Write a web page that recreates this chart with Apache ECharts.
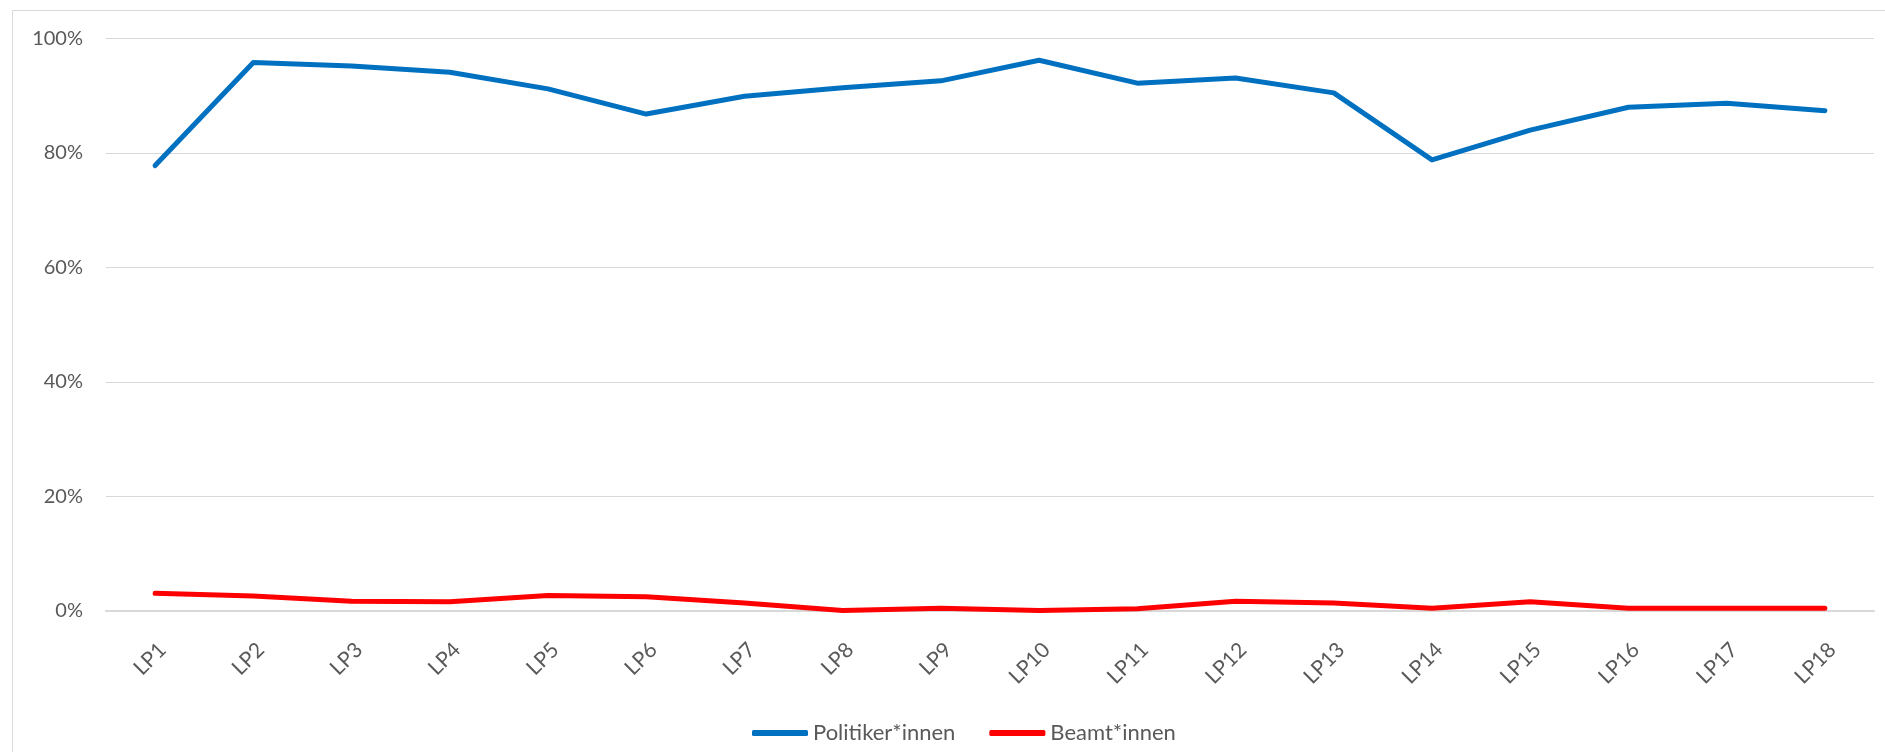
<!DOCTYPE html>
<html>
<head>
<meta charset="utf-8">
<script src="https://cdn.jsdelivr.net/npm/echarts@6/dist/echarts.min.js"></script>
<style>
html,body{margin:0;padding:0;background:#fff;}
#chart{width:1885px;height:752px;}
</style>
</head>
<body>
<div id="chart"></div>
<script>
const categories = ['LP1','LP2','LP3','LP4','LP5','LP6','LP7','LP8','LP9','LP10','LP11','LP12','LP13','LP14','LP15','LP16','LP17','LP18'];
const politiker = [77.8, 95.8, 95.2, 94.1, 91.2, 86.8, 89.9, 91.4, 92.6, 96.2, 92.2, 93.1, 90.5, 78.8, 84.0, 88.0, 88.7, 87.4];
const beamte = [3.1, 2.6, 1.7, 1.6, 2.7, 2.5, 1.4, 0.1, 0.5, 0.1, 0.4, 1.7, 1.4, 0.5, 1.6, 0.5, 0.5, 0.5];
const yTicks = [0, 20, 40, 60, 80, 100];

const FONT = 'Lato';
const chart = echarts.init(document.getElementById('chart'), null, {renderer: 'canvas'});
chart.setOption({
  animation: false,
  backgroundColor: '#ffffff',
  graphic: [{
    type: 'rect',
    shape: {x: 12.5, y: 10.5, width: 3000, height: 3000},
    style: {fill: 'none', stroke: '#D9D9D9', lineWidth: 1},
    silent: true
  }],
  grid: {left: 106, right: 11, top: 38.5, bottom: 141, containLabel: false},
  legend: {
    left: 747, top: 715,
    itemWidth: 56, itemHeight: 6, itemGap: 34,
    icon: 'roundRect',
    textStyle: {fontFamily: FONT, fontSize: 22, color: '#595959', lineHeight: 26},
    data: ['Politiker*innen', 'Beamt*innen']
  },
  xAxis: {
    type: 'category',
    data: categories,
    boundaryGap: true,
    axisLine: {lineStyle: {color: '#D9D9D9', width: 2}},
    axisTick: {show: false},
    axisLabel: {
      rotate: 45, margin: 28, interval: 0,
      align: 'right', verticalAlign: 'top',
      fontFamily: FONT, fontSize: 21, color: '#595959'
    }
  },
  yAxis: {
    type: 'value',
    min: yTicks[0], max: yTicks[yTicks.length - 1], interval: 20,
    axisLine: {show: false},
    axisTick: {show: false},
    splitLine: {lineStyle: {color: '#D9D9D9', width: 1}},
    axisLabel: {
      margin: 23, formatter: '{value}%',
      fontFamily: FONT, fontSize: 20, color: '#595959'
    }
  },
  series: [
    {
      name: 'Politiker*innen', type: 'line', data: politiker,
      symbol: 'none', smooth: false,
      itemStyle: {color: '#0070C0'},
      lineStyle: {color: '#0070C0', width: 5, cap: 'round', join: 'round'}
    },
    {
      name: 'Beamt*innen', type: 'line', data: beamte,
      symbol: 'none', smooth: false,
      itemStyle: {color: '#FF0000'},
      lineStyle: {color: '#FF0000', width: 5, cap: 'round', join: 'round'}
    }
  ]
});
</script>
</body>
</html>
